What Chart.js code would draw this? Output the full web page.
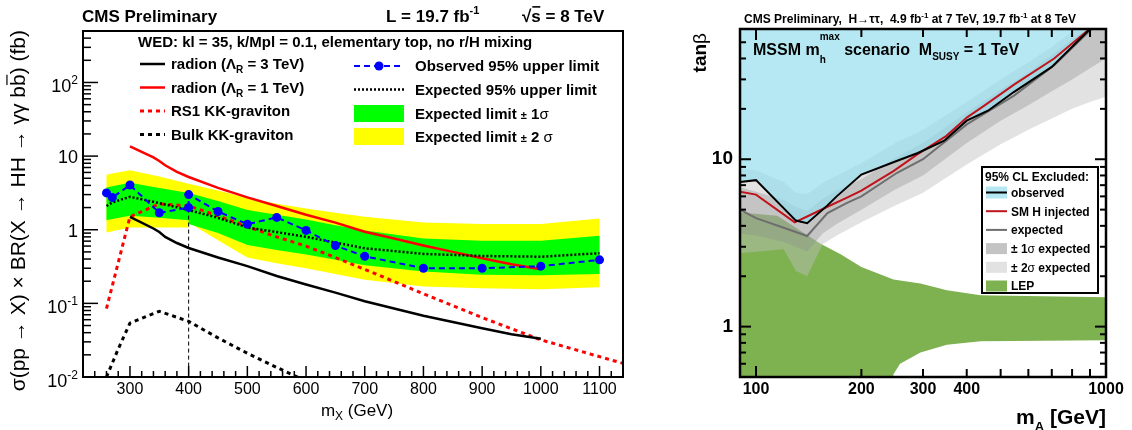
<!DOCTYPE html>
<html>
<head>
<meta charset="utf-8">
<script src="https://cdn.jsdelivr.net/npm/chart.js@4.4.1/dist/chart.umd.min.js"></script>
<style>
  html, body { margin: 0; padding: 0; background: #fff; }
  #wrap { position: relative; width: 1132px; height: 430px; overflow: hidden; }
  #left { position: absolute; left: 0; top: 0; }
  #right { position: absolute; left: 660px; top: 0; }
</style>
</head>
<body>
<div id="wrap">
  <canvas id="left" width="660" height="430"></canvas>
  <canvas id="right" width="472" height="430"></canvas>
</div>
<script>
const FONT = '"Liberation Sans", Arial, Helvetica, sans-serif';

// ---- left panel : X -> HH -> gg bb limits ----
const massObs  = [260, 270, 300, 350, 400, 400, 450, 500, 550, 600, 650, 700, 800, 900, 1000, 1100];
const obsLimit = [3.16, 2.73, 4.05, 1.70, 2.0, 3.0, 1.77, 1.19, 1.47, 0.98, 0.61, 0.435, 0.30, 0.30, 0.32, 0.39];
const expLimit = [2.1, 2.35, 2.8, 2.3, 1.85, 1.85, 1.45, 1.07, 0.93, 0.8, 0.67, 0.56, 0.47, 0.44, 0.43, 0.48];
const oneSigHi = [3.75, 3.9, 4.35, 3.7, 3.15, 3.15, 2.45, 1.85, 1.6, 1.38, 1.15, 0.98, 0.76, 0.71, 0.71, 0.83];
const oneSigLo = [1.35, 1.4, 1.55, 1.45, 1.35, 1.2, 0.9, 0.62, 0.53, 0.46, 0.39, 0.33, 0.27, 0.245, 0.24, 0.25];
const twoSigHi = [5.6, 5.8, 6.4, 5.3, 4.2, 4.2, 3.4, 2.7, 2.25, 1.95, 1.7, 1.5, 1.25, 1.2, 1.2, 1.42];
const twoSigLo = [0.92, 0.95, 1.07, 1.07, 1.07, 1.25, 0.72, 0.42, 0.35, 0.3, 0.25, 0.21, 0.17, 0.16, 0.155, 0.165];

const massRad = [300, 340, 350, 360, 380, 400, 450, 500, 550, 600, 650, 700, 750, 800, 850, 900, 950, 1000];
const radion1 = [13.6, 9.6, 8.6, 7.5, 6.1, 5.2, 3.7, 2.75, 2.1, 1.6, 1.25, 0.94, 0.76, 0.61, 0.5, 0.41, 0.34, 0.29];
const radion3 = [1.5, 1.04, 0.93, 0.8, 0.66, 0.565, 0.42, 0.32, 0.235, 0.18, 0.14, 0.107, 0.085, 0.068, 0.056, 0.046, 0.038, 0.033];

const massRS1 = [260, 300, 350, 400, 450, 500, 550, 600, 650, 700, 800, 900, 1000, 1140];
const rs1Grav = [0.085, 1.5, 2.25, 2.1, 1.55, 1.1, 0.8, 0.6, 0.42, 0.29, 0.135, 0.064, 0.032, 0.0153];

const massBulk = [260, 280, 300, 350, 400, 450, 500, 550, 600];
const bulkGrav = [0.01, 0.024, 0.054, 0.078, 0.057, 0.034, 0.021, 0.0135, 0.0088];

const sepMass = [400, 400];
const sepVal = [3.0, 0.01];

const xLabelsLeft = [300, 400, 500, 600, 700, 800, 900, 1000, 1100];
const yTickVals = [0.01, 0.1, 1, 10, 100];
const yTickBase = ['10', '10', '1', '10', '10'];
const yTickExp = ['-2', '-1', '', '', '2'];

// ---- right panel : MSSM tan(beta) vs mA ----
const mObs = [90, 100, 130, 140, 160, 170, 200, 250, 290, 345, 400, 460, 545, 700, 900, 950];
const tObs = [7.3, 7.5, 4.3, 4.15, 5.3, 6.0, 8.1, 9.7, 10.9, 12.9, 17.0, 19.5, 25.2, 35.6, 60, 67];
const mSM = [90, 100, 129, 140, 160, 182, 200, 247, 289, 350, 401, 450, 546, 711, 888, 950];
const tSM = [6.4, 6.15, 4.2, 4.55, 5.2, 5.9, 6.5, 8.5, 10.7, 13.8, 17.8, 21.0, 27.9, 40, 59, 68];
const mExp = [90, 100, 120, 140, 160, 182, 200, 253, 300, 401, 546, 711, 925];
const tExp = [5.0, 4.45, 3.9, 3.48, 4.77, 5.48, 6.0, 8.3, 10.0, 16.2, 24, 36.5, 62];

const mBand = [90, 100, 120, 130, 140, 155, 170, 200, 250, 300, 400, 500, 600, 700, 800, 900, 1000];
const s2Lo = [2.74, 2.8, 2.9, 2.15, 2.0, 3.1, 3.5, 4.2, 5.3, 6.3, 9.3, 12.3, 15.0, 17.5, 20.0, 22.0, 23.6];
const s1Lo = [3.6, 3.5, 3.2, 3.0, 2.8, 3.6, 4.1, 5.0, 6.6, 8.0, 12.5, 17, 21, 25.5, 30, 35, 40];
const s1Hi = [6.8, 6.4, 5.7, 5.2, 4.9, 5.8, 6.5, 7.6, 10.2, 12.5, 19, 26, 33, 42, 52, 62, 72];
const s2Hi = [8.7, 8.6, 7.3, 6.3, 6.2, 7.2, 8.0, 9.5, 12.5, 15, 22, 30, 38, 47, 58, 70, 82];

const mLepTop = [90, 115, 135, 152, 175, 200, 247, 295, 351, 438, 1000];
const tLepTop = [4.8, 4.6, 3.7, 3.15, 2.7, 2.27, 1.91, 1.81, 1.65, 1.54, 1.5];
const mLepBot = [1000, 438, 351, 295, 258, 247, 244, 90];
const tLepBot = [0.83, 0.817, 0.78, 0.7, 0.6, 0.52, 0.4, 0.4];

const xLabelsRight = [100, 200, 300, 400, 1000];
const yLabelsRight = [1, 10];

// ---- helpers ----
function pts(xs, ys) { return xs.map((m, i) => ({ x: m, y: ys[i] })); }
function band(xs, lo, hi) { return pts(xs, hi).concat(pts(xs, lo).reverse()); }

function P(t, s, o) { return Object.assign({ t: t, s: s }, o || {}); }
function fontOf(p) { return (p.b ? 'bold ' : '') + p.s + 'px ' + FONT; }

// draws a run of text pieces (sub/superscripts, overline) from a baseline
function rich(ctx, x, y, parts, align) {
  let w = 0, stay = 0;
  parts.forEach(p => {
    ctx.font = fontOf(p);
    p.w = ctx.measureText(p.t).width;
    if (p.stay) stay = p.w; else { w += Math.max(p.w, stay); stay = 0; }
  });
  let cx = align === 'right' ? x - w : align === 'center' ? x - w / 2 : x;
  stay = 0;
  ctx.textAlign = 'left';
  ctx.textBaseline = 'alphabetic';
  parts.forEach(p => {
    ctx.font = fontOf(p);
    ctx.fillStyle = p.c || '#000';
    const by = y + (p.dy || 0);
    ctx.fillText(p.t, cx, by);
    if (p.over) {
      ctx.strokeStyle = '#000';
      ctx.lineWidth = p.b ? 1.6 : 1.2;
      ctx.beginPath();
      ctx.moveTo(cx + 1, by - p.s * 0.86);
      ctx.lineTo(cx + p.w - 0.5, by - p.s * 0.86);
      ctx.stroke();
    }
    if (p.stay) stay = p.w; else { cx += Math.max(p.w, stay); stay = 0; }
  });
}

function logVals(min, max) {
  const out = [];
  for (let e = Math.floor(Math.log10(min)); e <= Math.ceil(Math.log10(max)); e++) {
    for (let k = 1; k <= 9; k++) {
      const v = k * Math.pow(10, e);
      if (v >= min * 0.999 && v <= max * 1.001) out.push([v, k === 1]);
    }
  }
  return out;
}

function seg(ctx, x0, y0, x1, y1) { ctx.beginPath(); ctx.moveTo(x0, y0); ctx.lineTo(x1, y1); ctx.stroke(); }

function sample(ctx, x0, x1, y, color, width, dash) {
  ctx.save();
  ctx.strokeStyle = color; ctx.lineWidth = width; ctx.setLineDash(dash || []);
  seg(ctx, x0, y, x1, y);
  ctx.restore();
}

// ---- left decorations ----
const leftDeco = {
  id: 'leftDeco',
  afterDraw(chart) {
    const { ctx, chartArea: a, scales: { x, y } } = chart;
    ctx.save();
    ctx.strokeStyle = '#000';
    ctx.lineWidth = 1.5;
    logVals(y.min, y.max).forEach(([v, major]) => {
      const py = y.getPixelForValue(v);
      seg(ctx, a.left, py, a.left + (major ? 15 : 8), py);
    });
    for (let m = 240; m < 1140; m += 20) {
      const px = x.getPixelForValue(m);
      seg(ctx, px, a.bottom, px, a.bottom - (m % 100 === 0 ? 11 : 6));
    }
    ctx.lineWidth = 2;
    ctx.strokeRect(a.left, a.top, a.right - a.left, a.bottom - a.top);

    // y tick labels with exponents
    yTickVals.forEach((v, i) => {
      const py = y.getPixelForValue(v);
      if (yTickExp[i]) {
        rich(ctx, 78, py + 9.5, [P(yTickBase[i], 18), P(yTickExp[i], 12, { dy: -8 })], 'right');
      } else {
        rich(ctx, 78, py + 7, [P(yTickBase[i], 18)], 'right');
      }
    });

    // axis titles
    ctx.save();
    ctx.translate(25, 30);
    ctx.rotate(-Math.PI / 2);
    rich(ctx, 0, 0, [P('σ(pp → X) × BR(X → HH → γγ b', 21), P('b', 21, { over: true }), P(') (fb)', 21)], 'right');
    ctx.restore();
    rich(ctx, 357, 416, [P('m', 17), P('X', 12, { dy: 4 }), P(' (GeV)', 17)], 'center');

    // header texts
    rich(ctx, 82, 21.5, [P('CMS Preliminary', 17, { b: 1 })], 'left');
    rich(ctx, 386, 21.5, [P('L = 19.7 fb', 17, { b: 1 }), P('-1', 11, { b: 1, dy: -8 })], 'left');
    rich(ctx, 522, 21.5, [P('√', 17, { b: 1 }), P('s', 17, { b: 1, over: true }), P(' = 8 TeV', 17, { b: 1 })], 'left');
    rich(ctx, 138, 47.4, [P('WED: kl = 35, k/Mpl = 0.1, elementary top, no r/H mixing', 15, { b: 1 })], 'left');

    // legend, left column
    const rowsL = [64, 87.5, 111, 134.5];
    sample(ctx, 140, 165, rowsL[0], '#000', 2.5);
    sample(ctx, 140, 165, rowsL[1], '#ff0000', 2.5);
    sample(ctx, 140, 165, rowsL[2], '#ff0000', 3, [4, 4]);
    sample(ctx, 140, 165, rowsL[3], '#000', 3, [4, 4]);
    rich(ctx, 171, rowsL[0] + 5.4, [P('radion (Λ', 15, { b: 1 }), P('R', 10, { b: 1, dy: 4 }), P(' = 3 TeV)', 15, { b: 1 })]);
    rich(ctx, 171, rowsL[1] + 5.4, [P('radion (Λ', 15, { b: 1 }), P('R', 10, { b: 1, dy: 4 }), P(' = 1 TeV)', 15, { b: 1 })]);
    rich(ctx, 171, rowsL[2] + 5.4, [P('RS1 KK-graviton', 15, { b: 1 })]);
    rich(ctx, 171, rowsL[3] + 5.4, [P('Bulk KK-graviton', 15, { b: 1 })]);

    // legend, right column
    const rowsR = [66, 89.5, 113.5, 136.5];
    sample(ctx, 354, 404, rowsR[0], '#0000ff', 2, [6, 4]);
    ctx.fillStyle = '#0000ff';
    ctx.beginPath(); ctx.arc(379, rowsR[0], 4.5, 0, Math.PI * 2); ctx.fill();
    sample(ctx, 354, 404, rowsR[1], '#000', 2.5, [2, 2]);
    ctx.fillStyle = '#00ff00'; ctx.fillRect(354, rowsR[2] - 8.5, 50, 17);
    ctx.fillStyle = '#ffff00'; ctx.fillRect(354, rowsR[3] - 8.5, 50, 17);
    rich(ctx, 415, rowsR[0] + 5.4, [P('Observed 95% upper limit', 15, { b: 1 })]);
    rich(ctx, 415, rowsR[1] + 5.4, [P('Expected 95% upper limit', 15, { b: 1 })]);
    rich(ctx, 415, rowsR[2] + 5.4, [P('Expected limit ', 15, { b: 1 }), P('±', 11, { b: 1 }), P(' 1', 15, { b: 1 }), P('σ', 15)]);
    rich(ctx, 415, rowsR[3] + 5.4, [P('Expected limit ', 15, { b: 1 }), P('±', 11, { b: 1 }), P(' 2', 15, { b: 1 }), P(' σ', 15)]);
    ctx.restore();
  }
};

// ---- right decorations ----
const OFF = 660;
const rightDeco = {
  id: 'rightDeco',
  afterDraw(chart) {
    const { ctx, chartArea: a, scales: { x, y } } = chart;
    ctx.save();
    ctx.strokeStyle = '#000';
    ctx.lineWidth = 2;
    logVals(y.min, y.max).forEach(([v, major]) => {
      const py = y.getPixelForValue(v);
      const len = major ? 11 : 6;
      seg(ctx, a.left, py, a.left + len, py);
      seg(ctx, a.right, py, a.right - len, py);
    });
    logVals(x.min, x.max).forEach(([v, major]) => {
      if (v < 95) return;
      const px = x.getPixelForValue(v);
      const len = major ? 11 : 8;
      seg(ctx, px, a.bottom, px, a.bottom - len);
      seg(ctx, px, a.top, px, a.top + len);
    });
    ctx.lineWidth = 2.5;
    ctx.strokeRect(a.left, a.top, a.right - a.left, a.bottom - a.top);

    ctx.translate(-OFF, 0);
    rich(ctx, 910, 23.3, [P('CMS Preliminary,  H→ττ,  4.9 fb', 12, { b: 1 }), P('-1', 8, { b: 1, dy: -5 }),
      P(' at 7 TeV, 19.7 fb', 12, { b: 1 }), P('-1', 8, { b: 1, dy: -5 }), P(' at 8 TeV', 12, { b: 1 })], 'center');
    rich(ctx, 753, 54.7, [P('MSSM m', 16, { b: 1 }), P('max', 10, { b: 1, dy: -15, stay: true }), P('h', 10, { b: 1, dy: 8 }),
      P(' scenario  M', 16, { b: 1 }), P('SUSY', 10, { b: 1, dy: 5 }), P(' = 1 TeV', 16, { b: 1 })]);

    ctx.save();
    ctx.translate(705.5, 33);
    ctx.rotate(-Math.PI / 2);
    rich(ctx, 0, 0, [P('tan', 19, { b: 1 }), P('β', 19)], 'right');
    ctx.restore();
    rich(ctx, 1106, 423.5, [P('m', 21, { b: 1 }), P('A', 13, { b: 1, dy: 7 }), P(' [GeV]', 21, { b: 1 })], 'right');

    // legend box
    const lx = 982, ly = 167, lw = 116, lh = 126;
    ctx.fillStyle = '#fff'; ctx.fillRect(lx, ly, lw, lh);
    ctx.lineWidth = 2; ctx.strokeStyle = '#000'; ctx.strokeRect(lx, ly, lw, lh);
    rich(ctx, 985, 180.5, [P('95% CL Excluded:', 12, { b: 1 })]);
    const rows = [192.5, 211.2, 229.9, 248.6, 267.3, 286];
    const sx0 = 986, sx1 = 1007;
    ctx.fillStyle = 'rgb(182,232,243)'; ctx.fillRect(sx0, rows[0] - 6, sx1 - sx0, 12);
    sample(ctx, sx0, sx1, rows[0], '#000', 2);
    sample(ctx, sx0, sx1, rows[1], '#c0141c', 2);
    sample(ctx, sx0, sx1, rows[2], '#6e6e6e', 2);
    ctx.fillStyle = 'rgb(196,196,196)'; ctx.fillRect(sx0, rows[3] - 5.5, sx1 - sx0, 11);
    ctx.fillStyle = 'rgb(226,226,226)'; ctx.fillRect(sx0, rows[4] - 5.5, sx1 - sx0, 11);
    ctx.fillStyle = '#7eb250'; ctx.fillRect(sx0, rows[5] - 5.5, sx1 - sx0, 11);
    const names = ['observed', 'SM H injected', 'expected'];
    names.forEach((n, i) => rich(ctx, 1011, rows[i] + 4.3, [P(n, 12, { b: 1 })]));
    rich(ctx, 1011, rows[3] + 4.3, [P('± 1', 12, { b: 1 }), P('σ', 12), P(' expected', 12, { b: 1 })]);
    rich(ctx, 1011, rows[4] + 4.3, [P('± 2', 12, { b: 1 }), P('σ', 12), P(' expected', 12, { b: 1 })]);
    rich(ctx, 1011, rows[5] + 4.3, [P('LEP', 12, { b: 1 })]);
    ctx.restore();
  }
};

const base = {
  responsive: false,
  animation: false,
  events: [],
  plugins: { legend: { display: false }, tooltip: { enabled: false } },
  elements: { line: { tension: 0 }, point: { radius: 0, hoverRadius: 0 } }
};

function lineSet(data, color, width, dash) {
  return { data: data, borderColor: color, borderWidth: width, borderDash: dash || [], fill: false, pointRadius: 0 };
}
function polySet(data, color) {
  return { data: data, borderColor: 'rgba(0,0,0,0)', borderWidth: 0, backgroundColor: color, fill: 'shape', pointRadius: 0 };
}

new Chart(document.getElementById('left'), {
  type: 'line',
  data: {
    datasets: [
      Object.assign(lineSet(pts(massObs, obsLimit), '#0000ff', 2, [6, 4]),
        { pointRadius: 4.5, pointBackgroundColor: '#0000ff', pointBorderWidth: 0 }),
      lineSet(pts(sepMass, sepVal), '#000', 1, [4, 3]),
      lineSet(pts(massObs, expLimit), '#000', 2.5, [2, 2]),
      lineSet(pts(massRad, radion1), '#ff0000', 2.5),
      lineSet(pts(massRad, radion3), '#000', 2.5),
      lineSet(pts(massRS1, rs1Grav), '#ff0000', 3, [4, 4]),
      lineSet(pts(massBulk, bulkGrav), '#000', 3, [4, 4]),
      polySet(band(massObs, oneSigLo, oneSigHi), '#00ff00'),
      polySet(band(massObs, twoSigLo, twoSigHi), '#ffff00')
    ]
  },
  options: Object.assign({}, base, {
    layout: { padding: { left: 0, right: 37, top: 31, bottom: 0 } },
    scales: {
      x: {
        type: 'linear', min: 220, max: 1140,
        grid: { display: false, drawTicks: false }, border: { display: false },
        ticks: {
          stepSize: 100, includeBounds: false, autoSkip: false, maxRotation: 0, padding: 3,
          color: '#000', font: { family: FONT, size: 16 },
          callback: v => xLabelsLeft.includes(v) ? String(v) : ''
        },
        afterFit: s => { s.height = 53; }
      },
      y: {
        type: 'logarithmic', min: 0.01, max: 500,
        grid: { display: false, drawTicks: false }, border: { display: false },
        ticks: { display: false },
        afterFit: s => { s.width = 83; }
      }
    }
  }),
  plugins: [leftDeco]
});

new Chart(document.getElementById('right'), {
  type: 'line',
  data: {
    datasets: [
      lineSet(pts(mObs, tObs), '#000', 2),
      lineSet(pts(mSM, tSM), '#c0141c', 2),
      lineSet(pts(mExp, tExp), '#6e6e6e', 2),
      { data: pts(mObs, tObs), borderColor: 'rgba(0,0,0,0)', borderWidth: 0, backgroundColor: 'rgba(150,222,238,0.7)', fill: 'end', pointRadius: 0 },
      polySet(band(mBand, s1Lo, s1Hi), 'rgba(140,140,140,0.35)'),
      polySet(band(mBand, s2Lo, s2Hi), 'rgba(190,190,190,0.45)'),
      polySet(pts(mLepTop, tLepTop).concat(pts(mLepBot, tLepBot)), '#7eb250')
    ]
  },
  options: Object.assign({}, base, {
    layout: { padding: { left: 0, right: 26, top: 29, bottom: 0 } },
    scales: {
      x: {
        type: 'logarithmic', min: 90, max: 1000,
        grid: { display: false, drawTicks: false }, border: { display: false },
        ticks: {
          autoSkip: false, maxRotation: 0, padding: 3,
          color: '#000', font: { family: FONT, size: 16, weight: 'bold' },
          callback: v => xLabelsRight.includes(Math.round(v)) ? String(Math.round(v)) : ''
        },
        afterFit: s => { s.height = 53; }
      },
      y: {
        type: 'logarithmic', min: 0.5, max: 60,
        grid: { display: false, drawTicks: false }, border: { display: false },
        ticks: {
          autoSkip: false, padding: 7,
          color: '#000', font: { family: FONT, size: 19, weight: 'bold' },
          callback: v => yLabelsRight.some(t => Math.abs(t - v) < 1e-6) ? String(v) : ''
        },
        afterFit: s => { s.width = 80; }
      }
    }
  }),
  plugins: [rightDeco]
});
</script>
</body>
</html>
